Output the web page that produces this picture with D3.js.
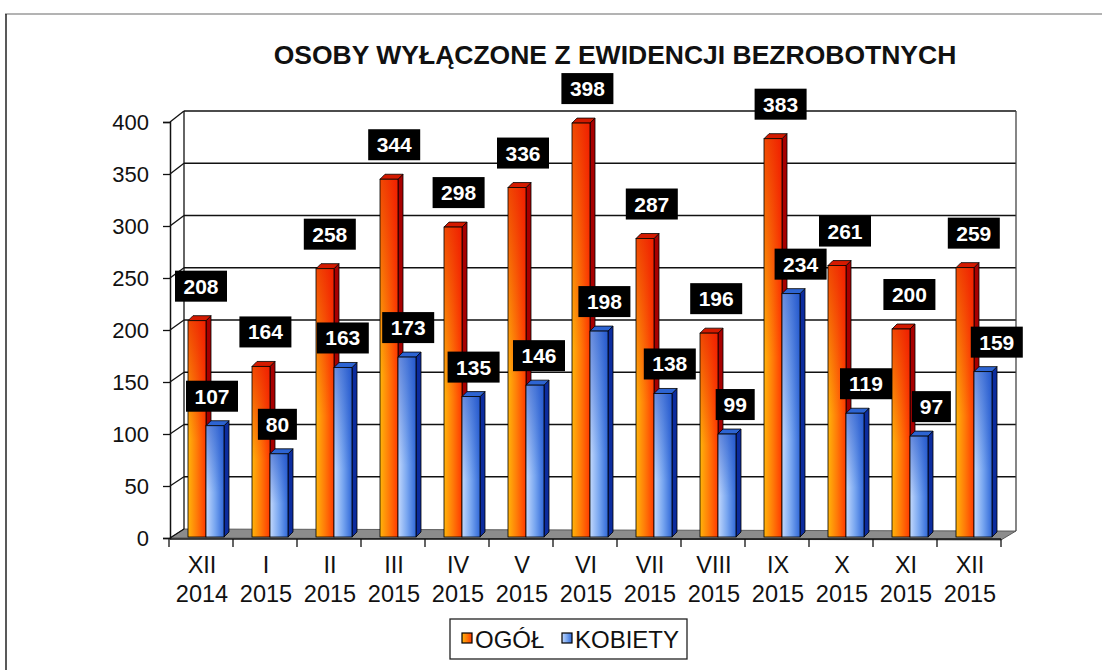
<!DOCTYPE html>
<html>
<head>
<meta charset="utf-8">
<script src="https://cdn.jsdelivr.net/npm/d3@7"></script>
<style>
  body { margin: 0; background: #fff; }
  svg { display: block; font-family: "Liberation Sans", Arial, sans-serif; }
</style>
</head>
<body>
<svg id="chart" width="1102" height="670"></svg>
<script>
// data
const months = ['XII', 'I', 'II', 'III', 'IV', 'V', 'VI', 'VII', 'VIII', 'IX', 'X', 'XI', 'XII'];
const years = ['2014', '2015', '2015', '2015', '2015', '2015', '2015', '2015', '2015', '2015', '2015', '2015', '2015'];
const ogol = [208, 164, 258, 344, 298, 336, 398, 287, 196, 383, 261, 200, 259];
const kobiety = [107, 80, 163, 173, 135, 146, 198, 138, 99, 234, 119, 97, 159];
const yTicks = [0, 50, 100, 150, 200, 250, 300, 350, 400];
const seriesNames = ['OGÓŁ', 'KOBIETY'];
const title = 'OSOBY WYŁĄCZONE Z EWIDENCJI BEZROBOTNYCH';

const svg = d3.select('#chart');
const keys = months.map((m, i) => i);

// scales: front plane and back wall
const x = d3.scaleBand().domain(keys).range([169, 1001]).paddingInner(0);
const y = d3.scaleLinear().domain([0, 400]).range([538, 122]);
const yBack = d3.scaleLinear().domain([0, 400]).range([529, 111]);
const backL = 184, backR = 1016, frontL = 170;

// gradients
const defs = svg.append('defs');
function grad(id, x2, y2, stops) {
  const g = defs.append('linearGradient').attr('id', id)
    .attr('x1', 0).attr('y1', 0).attr('x2', x2).attr('y2', y2);
  stops.forEach(s => g.append('stop').attr('offset', s[0])
    .attr('stop-color', s[1]).attr('stop-opacity', s[2] ?? 1));
}
grad('orH', 1, 0, [[0, '#ffb40a'], [0.5, '#ff7a08'], [1, '#ff3a00']]);
grad('orV', 0, 1, [[0, '#e81000', 0.65], [0.55, '#e81000', 0]]);
grad('blH', 1, 0, [[0, '#c2d8fc'], [0.5, '#78a6f0'], [1, '#3068d8']]);
grad('blV', 0, 1, [[0, '#1746c0', 0.5], [0.6, '#1746c0', 0]]);

// outer frame
svg.append('line').attr('x1', 5).attr('x2', 1102).attr('y1', 14).attr('y2', 14)
  .attr('stroke', '#9a9a9a').attr('stroke-width', 1.5);
svg.append('line').attr('x1', 6).attr('x2', 6).attr('y1', 14).attr('y2', 670)
  .attr('stroke', '#222').attr('stroke-width', 1.5);

// title
svg.append('text').attr('x', 615).attr('y', 64).attr('text-anchor', 'middle')
  .attr('font-size', 26.5).attr('font-weight', 'bold').attr('fill', '#111').text(title);

// floor
svg.append('polygon')
  .attr('points', [[frontL, y(0)], [1001, y(0) + 2], [backR, yBack(0) + 2], [backL, yBack(0)]].join(' '))
  .attr('fill', '#8c8c8c').attr('stroke', '#444').attr('stroke-width', 0.8);

// back wall gridlines
const grid = svg.append('g');
grid.selectAll('line.h').data(yTicks.filter(d => d > 0)).join('line')
  .attr('x1', backL).attr('x2', backR)
  .attr('y1', d => yBack(d)).attr('y2', d => yBack(d))
  .attr('stroke', '#111').attr('stroke-width', 1.3);
grid.selectAll('line.d').data(yTicks).join('line')
  .attr('x1', frontL).attr('x2', backL)
  .attr('y1', d => y(d)).attr('y2', d => yBack(d))
  .attr('stroke', '#111').attr('stroke-width', 1.3);
grid.append('line').attr('x1', backL).attr('x2', backL)
  .attr('y1', yBack(0)).attr('y2', yBack(400)).attr('stroke', '#111').attr('stroke-width', 1.3);
grid.append('line').attr('x1', backR).attr('x2', backR)
  .attr('y1', yBack(0) + 2).attr('y2', yBack(400)).attr('stroke', '#444').attr('stroke-width', 1.3);

// y axis (front)
const yAxis = svg.append('g').attr('transform', `translate(${frontL},0)`)
  .call(d3.axisLeft(y).tickValues(yTicks).tickSize(7).tickPadding(14));
yAxis.select('.domain').attr('stroke', '#111').attr('stroke-width', 1.5);
yAxis.selectAll('.tick line').attr('stroke', '#111').attr('stroke-width', 1.3);
yAxis.selectAll('.tick text').attr('font-size', 22).attr('fill', '#111')
  .attr('font-family', '"Liberation Sans", Arial, sans-serif');

// x axis (front)
const xAxis = svg.append('g').attr('transform', `translate(0,${y(0) + 1})`);
xAxis.append('line').attr('x1', frontL).attr('x2', 1001)
  .attr('stroke', '#111').attr('stroke-width', 1.3);
xAxis.selectAll('line.t').data(keys.concat([keys.length])).join('line')
  .attr('x1', d => d < keys.length ? x(d) : x(keys.length - 1) + x.bandwidth())
  .attr('x2', d => d < keys.length ? x(d) : x(keys.length - 1) + x.bandwidth())
  .attr('y1', 0).attr('y2', 8).attr('stroke', '#111').attr('stroke-width', 1.3);
const catLabels = xAxis.selectAll('text').data(keys).join('text')
  .attr('x', d => x(d) + x.bandwidth() / 2 + 1).attr('text-anchor', 'middle')
  .attr('font-size', 23.5).attr('fill', '#111');
catLabels.append('tspan').attr('x', d => x(d) + x.bandwidth() / 2 + 1).attr('y', 34).text(d => months[d]);
catLabels.append('tspan').attr('x', d => x(d) + x.bandwidth() / 2 + 1).attr('y', 63).text(d => years[d]);

// 3D bars
const barW = 18, depX = 5, depY = 5;
const series = [
  { vals: ogol, off: -13, front: ['orH', 'orV'], side: '#a80000', top: '#d41a00' },
  { vals: kobiety, off: 5, front: ['blH', 'blV'], side: '#0c2c9e', top: '#2d64d2' }
];
const bars = svg.append('g');
keys.forEach(i => {
  const cx = x(i) + x.bandwidth() / 2;
  series.forEach(s => {
    const x0 = cx + s.off, yt = y(s.vals[i]) - 1, yb = y(0) - 1;
    const g = bars.append('g');
    g.append('polygon')
      .attr('points', [[x0 + barW, yt], [x0 + barW + depX, yt - depY], [x0 + barW + depX, yb - depY], [x0 + barW, yb]].join(' '))
      .attr('fill', s.side).attr('stroke', '#000').attr('stroke-width', 0.8);
    g.append('polygon')
      .attr('points', [[x0, yt], [x0 + depX, yt - depY], [x0 + barW + depX, yt - depY], [x0 + barW, yt]].join(' '))
      .attr('fill', s.top).attr('stroke', '#000').attr('stroke-width', 0.8);
    g.append('rect').attr('x', x0).attr('y', yt).attr('width', barW).attr('height', yb - yt)
      .attr('fill', `url(#${s.front[0]})`);
    g.append('rect').attr('x', x0).attr('y', yt).attr('width', barW).attr('height', yb - yt)
      .attr('fill', `url(#${s.front[1]})`).attr('stroke', '#000').attr('stroke-width', 0.8);
  });
});

// value labels
const labels = svg.append('g');
function label(v, cx, bottom) {
  const w = String(v).length > 2 ? 52 : 39, h = 31;
  labels.append('rect').attr('x', cx - w / 2).attr('y', bottom - h).attr('width', w).attr('height', h)
    .attr('fill', '#000');
  labels.append('text').attr('x', cx).attr('y', bottom - 8).attr('text-anchor', 'middle')
    .attr('font-size', 21).attr('font-weight', 'bold').attr('fill', '#fff').text(v);
}
keys.forEach(i => {
  const cx = x(i) + x.bandwidth() / 2;
  label(ogol[i], cx + 0.4 * i, y(ogol[i]) - 20);
  label(kobiety[i], cx + series[1].off + barW / 2 - 3 + 1.4 * i, y(kobiety[i]) - 15);
});

// legend
const lg = svg.append('g').attr('transform', 'translate(450,619)');
lg.append('rect').attr('width', 237).attr('height', 40).attr('fill', '#fff')
  .attr('stroke', '#222').attr('stroke-width', 1.3);
const legendItems = [
  { name: seriesNames[0], fill: 'orH', x: 12 },
  { name: seriesNames[1], fill: 'blH', x: 112 }
];
legendItems.forEach(d => {
  lg.append('rect').attr('x', d.x).attr('y', 14).attr('width', 10).attr('height', 10)
    .attr('fill', `url(#${d.fill})`).attr('stroke', '#000').attr('stroke-width', 1.2);
  lg.append('text').attr('x', d.x + 13).attr('y', 29).attr('font-size', 24).attr('fill', '#111')
    .text(d.name);
});
</script>
</body>
</html>
